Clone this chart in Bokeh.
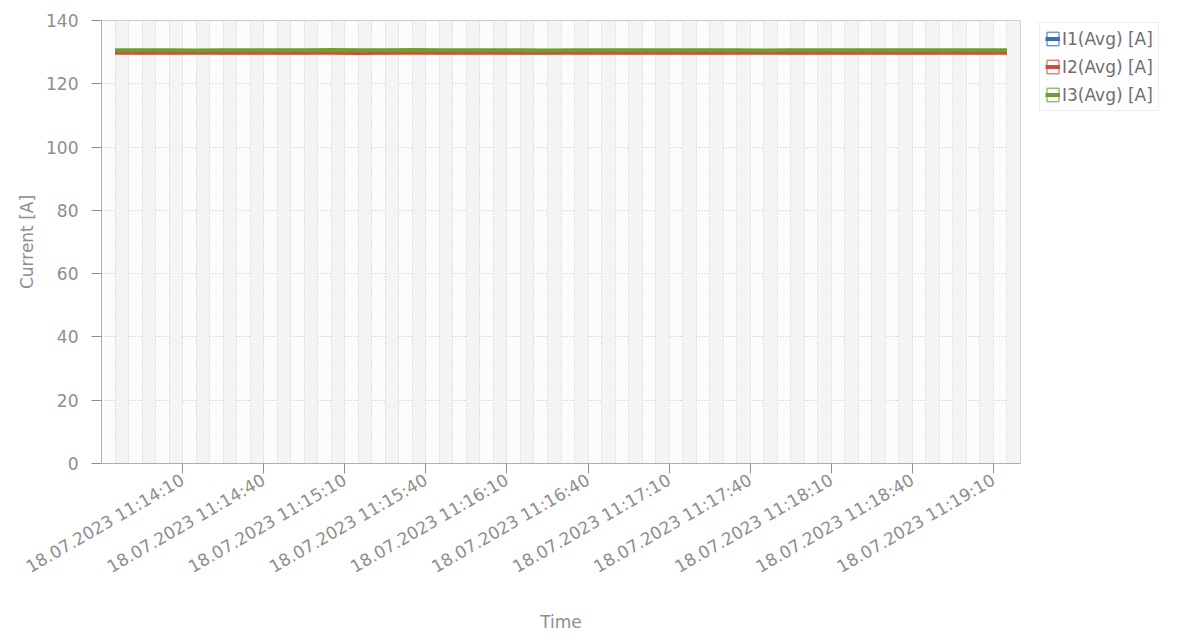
import math
import pandas as pd
from bokeh.plotting import figure
from bokeh.models import (Range1d, FixedTicker, DatetimeTickFormatter, Grid, Legend,
                          LegendItem, ColumnDataSource)
from bokeh.embed import file_html
from bokeh.resources import INLINE

# ---- data ----
start_time = "2023-07-18 11:13:45"
sample_step = "10s"
i1_avg = [130.1, 130.0, 130.1, 130.1, 130.0, 130.1, 130.0, 130.0, 130.1, 130.1,
          130.0, 130.1, 130.0, 130.1, 130.1, 130.0, 130.0, 130.1, 130.1, 130.0,
          130.1, 130.0, 130.0, 130.1, 130.1, 130.0, 130.1, 130.0, 130.1, 130.0,
          130.0, 130.1, 130.0, 130.1]
i2_avg = [129.8, 129.8, 129.9, 129.8, 129.8, 129.8, 129.9, 129.8, 129.8, 129.7,
          129.8, 129.8, 129.9, 129.8, 129.8, 129.8, 129.8, 129.9, 129.8, 129.8,
          129.8, 129.8, 129.9, 129.8, 129.8, 129.8, 129.8, 129.8, 129.9, 129.8,
          129.8, 129.8, 129.8, 129.8]
i3_avg = [130.6, 130.6, 130.6, 130.5, 130.6, 130.6, 130.6, 130.6, 130.7, 130.6,
          130.6, 130.7, 130.6, 130.6, 130.6, 130.6, 130.5, 130.6, 130.6, 130.6,
          130.6, 130.6, 130.6, 130.6, 130.5, 130.6, 130.6, 130.6, 130.6, 130.6,
          130.6, 130.6, 130.6, 130.6]
series_names = ["I1(Avg) [A]", "I2(Avg) [A]", "I3(Avg) [A]"]
x_tick_labels = ["18.07.2023 11:14:10", "18.07.2023 11:14:40", "18.07.2023 11:15:10",
                 "18.07.2023 11:15:40", "18.07.2023 11:16:10", "18.07.2023 11:16:40",
                 "18.07.2023 11:17:10", "18.07.2023 11:17:40", "18.07.2023 11:18:10",
                 "18.07.2023 11:18:40", "18.07.2023 11:19:10"]
x_start = "2023-07-18 11:13:40"
x_end = "2023-07-18 11:19:20"
y_ticks = [0, 20, 40, 60, 80, 100, 120, 140]

times = pd.date_range(start_time, periods=len(i1_avg), freq=sample_step)
src = ColumnDataSource(dict(t=times, i1=i1_avg, i2=i2_avg, i3=i3_avg))

def ms(ts):
    return pd.Timestamp(ts).value / 1e6

tick_ms = [ms(pd.to_datetime(s, format="%d.%m.%Y %H:%M:%S")) for s in x_tick_labels]
five_ms = [ms(t) for t in pd.date_range(x_start, x_end, freq="5s")]

FONT = "DejaVu Sans"
GRAY = "#8e8e8e"
FS = "17px"

p = figure(frame_width=919, frame_height=443, output_backend="svg", toolbar_location=None,
           x_axis_type="datetime",
           x_range=Range1d(ms(x_start), ms(x_end)), y_range=Range1d(0, 140),
           min_border_left=101, min_border_top=20, min_border_bottom=6,
           min_border_right=150)
p.background_fill_color = "#fcfcfc"
p.border_fill_color = "white"
p.outline_line_color = "#c8c8c8"

# grids
p.xgrid.visible = False
p.ygrid.ticker = FixedTicker(ticks=y_ticks)
p.ygrid.grid_line_color = "#c4c4c4"
p.ygrid.grid_line_dash = "1 2"
vgrid = Grid(dimension=0, ticker=FixedTicker(ticks=five_ms),
             grid_line_color="#cbcbcb", grid_line_dash="1 2",
             band_fill_color="#f4f4f4", band_fill_alpha=1.0)
p.add_layout(vgrid)

# axes
xa = p.xaxis[0]
xa.ticker = FixedTicker(ticks=tick_ms, minor_ticks=[])
fmt = "%d.%m.%Y %H:%M:%S"
xa.formatter = DatetimeTickFormatter(milliseconds=fmt, seconds=fmt, minsec=fmt,
                                     minutes=fmt, hourmin=fmt, hours=fmt, days=fmt)
xa.major_label_orientation = math.pi / 6
xa.axis_label = "Time"
ya = p.yaxis[0]
ya.ticker = FixedTicker(ticks=y_ticks, minor_ticks=[])
ya.axis_label = "Current [A]"
for ax in (xa, ya):
    ax.axis_line_color = "#b0b0b0"
    ax.major_tick_line_color = "#909090"
    ax.major_tick_out = 10
    ax.major_tick_in = 0
    ax.minor_tick_line_color = None
    ax.major_label_text_font = FONT
    ax.major_label_text_font_size = FS
    ax.major_label_text_color = GRAY
    ax.axis_label_text_font = FONT
    ax.axis_label_text_font_size = FS
    ax.axis_label_text_font_style = "normal"
    ax.axis_label_text_color = GRAY
xa.axis_label_standoff = 24
ya.major_label_standoff = 13
ya.axis_label_standoff = 6

colors = ["#3d6db3", "#c9503f", "#6f9e2a"]
cols = ["i1", "i2", "i3"]
far = ms("2023-07-18 11:00:00")
items = []
for name, col, c in zip(series_names, cols, colors):
    ln = p.line("t", col, source=src, line_color=c, line_width=4)
    box = p.quad(left=[far], right=[far + 1], top=[1], bottom=[0], fill_color="white",
                 line_color=c, line_width=1)
    items.append(LegendItem(label=name, renderers=[box, ln]))

legend = Legend(items=items, location=(19, 352), margin=0, padding=5,
                spacing=7, glyph_width=15, glyph_height=17,
                label_text_font=FONT, label_text_font_size=FS,
                label_text_color="#6e6e6e", border_line_color="#dddddd",
                label_standoff=2, label_height=21)
p.add_layout(legend, "right")

open("out.html", "w").write(file_html(p, INLINE))
